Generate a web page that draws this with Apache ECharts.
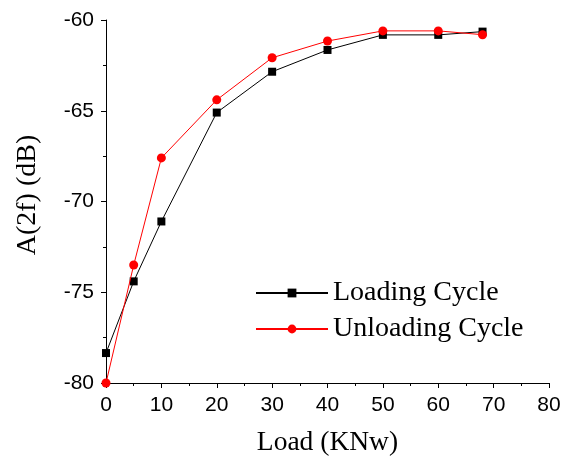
<!DOCTYPE html>
<html>
<head>
<meta charset="utf-8">
<script src="https://cdn.jsdelivr.net/npm/echarts@6/dist/echarts.min.js"></script>
<style>
  html, body { margin: 0; padding: 0; background: #fff; }
  #chart { width: 574px; height: 456px; }
</style>
</head>
<body>
<div id="chart"></div>
<script>
// Load steps (KNw)
const loads = [0, 5, 10, 20, 30, 40, 50, 60, 68];
// Second-harmonic amplitude A(2f) in dB
const loadingCycle = [-78.35, -74.4, -71.1, -65.1, -62.85, -61.65, -60.82, -60.82, -60.64];
const unloadingCycle = [-80.0, -73.5, -67.6, -64.4, -62.08, -61.16, -60.6, -60.6, -60.81];
const xTicks = [0, 10, 20, 30, 40, 50, 60, 70, 80];
const yTicks = [-80, -75, -70, -65, -60];

const pairs = (xs, ys) => xs.map((x, i) => [x, ys[i]]);

const serif = '"Liberation Serif", "Times New Roman", serif';
const sans = '"Liberation Sans", Arial, sans-serif';
const axisLine = { show: true, lineStyle: { color: '#000', width: 1 } };
const tickLabel = { color: '#000', fontFamily: sans, fontSize: 21, margin: 12 };
const majorTick = { show: true, inside: false, length: 5, lineStyle: { color: '#000' } };
const minorTick = { show: true, splitNumber: 2, length: 3, lineStyle: { color: '#000' } };

const chart = echarts.init(document.getElementById('chart'), null, { renderer: 'canvas' });
chart.setOption({
  animation: false,
  backgroundColor: '#fff',
  grid: { left: 106, right: 25, top: 20, bottom: 73, containLabel: false, outerBoundsMode: 'none' },
  legend: {
    orient: 'vertical',
    left: 250,
    top: 274,
    itemWidth: 72,
    itemHeight: 11,
    itemGap: 8,
    textStyle: { color: '#000', fontFamily: serif, fontSize: 28 },
    data: ['Loading Cycle', 'Unloading Cycle']
  },
  xAxis: {
    type: 'value',
    min: xTicks[0],
    max: xTicks[xTicks.length - 1],
    interval: 10,
    name: 'Load (KNw)',
    nameLocation: 'middle',
    nameGap: 46,
    nameTextStyle: { color: '#000', fontFamily: serif, fontSize: 27.5 },
    axisLine: axisLine,
    axisTick: majorTick,
    minorTick: minorTick,
    axisLabel: tickLabel,
    splitLine: { show: false }
  },
  yAxis: {
    type: 'value',
    min: yTicks[0],
    max: yTicks[yTicks.length - 1],
    interval: 5,
    name: 'A(2f) (dB)',
    nameLocation: 'middle',
    nameGap: 64,
    nameTextStyle: { color: '#000', fontFamily: serif, fontSize: 28, padding: [0, 0, 0, 13] },
    axisLine: axisLine,
    axisTick: majorTick,
    minorTick: minorTick,
    axisLabel: tickLabel,
    splitLine: { show: false }
  },
  series: [
    {
      name: 'Loading Cycle',
      type: 'line',
      data: pairs(loads, loadingCycle),
      symbol: 'rect',
      symbolSize: 8,
      color: '#000',
      lineStyle: { color: '#000', width: 1 },
      itemStyle: { color: '#000' },
      z: 2
    },
    {
      name: 'Unloading Cycle',
      type: 'line',
      data: pairs(loads, unloadingCycle),
      symbol: 'circle',
      symbolSize: 9,
      color: '#ff0000',
      lineStyle: { color: '#ff0000', width: 1 },
      itemStyle: { color: '#ff0000' },
      z: 3
    }
  ]
});
</script>
</body>
</html>
